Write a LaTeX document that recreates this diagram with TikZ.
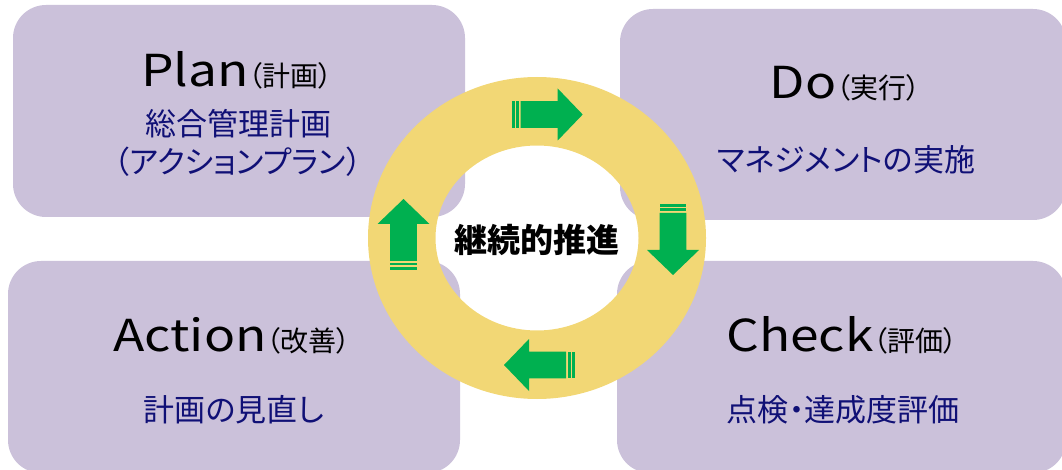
\documentclass[tikz,border=0pt]{standalone}
\usepackage{fontspec}
\setmainfont{Noto Sans CJK JP}[RawFeature=+palt]
\newfontfamily\widelatin{Noto Sans CJK JP}[FakeStretch=1.17]
\definecolor{boxfill}{RGB}{203,193,218}
\definecolor{ringfill}{RGB}{242,215,117}
\definecolor{arrowgreen}{RGB}{0,176,80}
\definecolor{navytext}{RGB}{16,16,118}
\tikzset{
  panel/.style={fill=boxfill, draw=none, rounded corners=33pt},
  titletext/.style={inner sep=0pt, anchor=base, text=black},
  subtext/.style={inner sep=0pt, anchor=center, text=navytext, font=\fontsize{31}{31}\selectfont},
  cyclearrow/.pic={
    \fill[arrowgreen] (0,-13.3) rectangle (3,13.3);
    \fill[arrowgreen] (4.5,-13.3) rectangle (7.3,13.3);
    \fill[arrowgreen] (9,-13.3) -- (46,-13.3) -- (46,-26) -- (71,0) -- (46,26) -- (46,13.3) -- (9,13.3) -- cycle;
  }
}
\newcommand{\ttl}[2]{{\widelatin\fontsize{44}{44}\selectfont #1}{\fontsize{28}{28}\selectfont #2}}
\begin{document}
\begin{tikzpicture}[x=1pt,y=-1pt]
\useasboundingbox (0,0) rectangle (1062,470);
% panels
\fill[panel] (13,5) rectangle (465,217);
\fill[panel] (620,9) rectangle (1066,220);
\fill[panel] (8,261) rectangle (460,473);
\fill[panel] (617,261) rectangle (1066,473);
% ring
\fill[ringfill, even odd rule] (537,238) ellipse [x radius=169, y radius=161]
  (537,238) ellipse [x radius=101.5, y radius=92.5];
% arrows
\pic at (511.7,114.5) {cyclearrow};
\pic[rotate=-90] at (673,204) {cyclearrow};
\pic[rotate=180] at (575,365) {cyclearrow};
\pic[rotate=90] at (403.5,270) {cyclearrow};
% texts
\node[titletext] (plantitle) at (237,87) {\ttl{Plan}{（計画）}};
\node[subtext] (plansub1) at (238,123.5) {総合管理計画};
\node[subtext] (plansub2) at (238,162) {（アクションプラン）};
\node[titletext] (dotitle) at (845,99) {\ttl{Do}{（実行）}};
\node[subtext] (dosub) at (846,160) {マネジメントの実施};
\node[titletext] (actiontitle) at (232,351) {\ttl{Action}{（改善）}};
\node[subtext] (actionsub) at (234,410) {計画の見直し};
\node[titletext] (checktitle) at (842,351) {\ttl{Check}{（評価）}};
\node[subtext] (checksub) at (843,410) {点検・達成度評価};
\node[inner sep=0pt, font=\bfseries\fontsize{33}{33}\selectfont] (center) at (537,240) {継続的推進};
\end{tikzpicture}
\end{document}
